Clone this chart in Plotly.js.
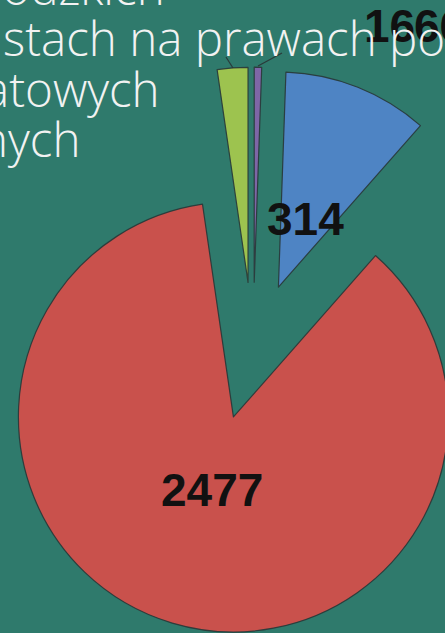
<!DOCTYPE html>
<html>
<head>
<meta charset="utf-8">
<script src="https://cdn.plot.ly/plotly-3.0.1.min.js"></script>
<style>
  html, body { margin:0; padding:0; width:445px; height:633px; overflow:hidden; background:#2F7A6C; }
  #wrap { position:absolute; left:0; top:0; width:445px; height:633px; overflow:hidden; }
  #chart { position:absolute; }
</style>
</head>
<body>
<div id="wrap"><div id="chart"></div></div>
<script>
// ---- data ----
const sliceNames  = ['fioletowy', 'niebieski', 'czerwony', 'zielony'];
const sliceValues = [16, 314, 2477, 66];
const sliceColors = ['#7E66A6', '#4E84C4', '#C9514C', '#9DC34F'];
const textLines   = ['wódzkich', 'stach na prawach po', 'atowych', 'nych'];

// ---- geometry of the (cropped) slide ----
const CX = 253, CY = 351;        // pie centre in window pixels
const R = 215, PULL = 0.32;       // radius and pull fraction
const HALF = R * (1 + PULL);      // half size of pie domain
const DIV_LEFT = CX - HALF, DIV_TOP = -100;
const DIV_W = 2 * HALF, DIV_H = 800;

const el = document.getElementById('chart');
el.style.left = DIV_LEFT + 'px';
el.style.top = DIV_TOP + 'px';
el.style.width = DIV_W + 'px';
el.style.height = DIV_H + 'px';

const px = x => (x - DIV_LEFT) / DIV_W;
const py = y => 1 - (y - DIV_TOP) / DIV_H;

const domY0 = py(CY + HALF), domY1 = py(CY - HALF);

const trace = {
  type: 'pie',
  labels: sliceNames,
  values: sliceValues,
  sort: false,
  direction: 'clockwise',
  rotation: 0,
  pull: sliceValues.map(() => PULL),
  marker: { colors: sliceColors, line: { color: 'rgba(40,55,55,0.9)', width: 1.2 } },
  textinfo: 'none',
  hoverinfo: 'none',
  showlegend: false,
  domain: { x: [0, 1], y: [domY0, domY1] }
};

const labelFont = { family: 'Liberation Sans, Arial, sans-serif', size: 46, color: '#111', weight: 'bold' };
const TS = 47.5;
const textFont  = { family: 'Open Sans, sans-serif', size: TS, color: '#F2F2F2', weight: 300 };
const mid = base => base - 0.388 * TS;   // baseline -> box centre

const annotations = [
  // value labels
  { text: String(sliceValues[2]), x: px(212), y: py(490), xanchor: 'center', yanchor: 'middle', font: labelFont },
  { text: String(sliceValues[1]), x: px(305), y: py(219), xanchor: 'center', yanchor: 'middle', font: labelFont },
  { text: String(sliceValues[0]), x: px(362), y: py(26), xanchor: 'left', yanchor: 'middle', font: labelFont },
  { text: String(sliceValues[3]), x: px(412), y: py(26), xanchor: 'left', yanchor: 'middle', font: labelFont },
  // slide text (drawn on top)
  { text: textLines[0], x: px(167), y: py(mid(5)), xanchor: 'right', yanchor: 'middle', font: textFont },
  { text: textLines[1], x: px(1), y: py(mid(56)), xanchor: 'left', yanchor: 'middle', font: textFont },
  { text: textLines[2], x: px(162), y: py(mid(107)), xanchor: 'right', yanchor: 'middle', font: textFont },
  { text: textLines[3], x: px(82), y: py(mid(157)), xanchor: 'right', yanchor: 'middle', font: textFont }
].map(a => Object.assign({ xref: 'paper', yref: 'paper', showarrow: false }, a));

const lineStyle = { color: '#2a3a3a', width: 1.2 };
const shapes = [
  { type: 'line', xref: 'paper', yref: 'paper', x0: px(233), y0: py(68), x1: px(226), y1: py(57), line: lineStyle },
  { type: 'line', xref: 'paper', yref: 'paper', x0: px(258), y0: py(66), x1: px(282), y1: py(53), line: lineStyle }
];

const layout = {
  width: DIV_W, height: DIV_H,
  margin: { l: 0, r: 0, t: 0, b: 0 },
  paper_bgcolor: '#2F7A6C',
  plot_bgcolor: '#2F7A6C',
  showlegend: false,
  annotations: annotations,
  shapes: shapes
};

Plotly.newPlot(el, [trace], layout, { staticPlot: true, displayModeBar: false });
</script>
</body>
</html>
